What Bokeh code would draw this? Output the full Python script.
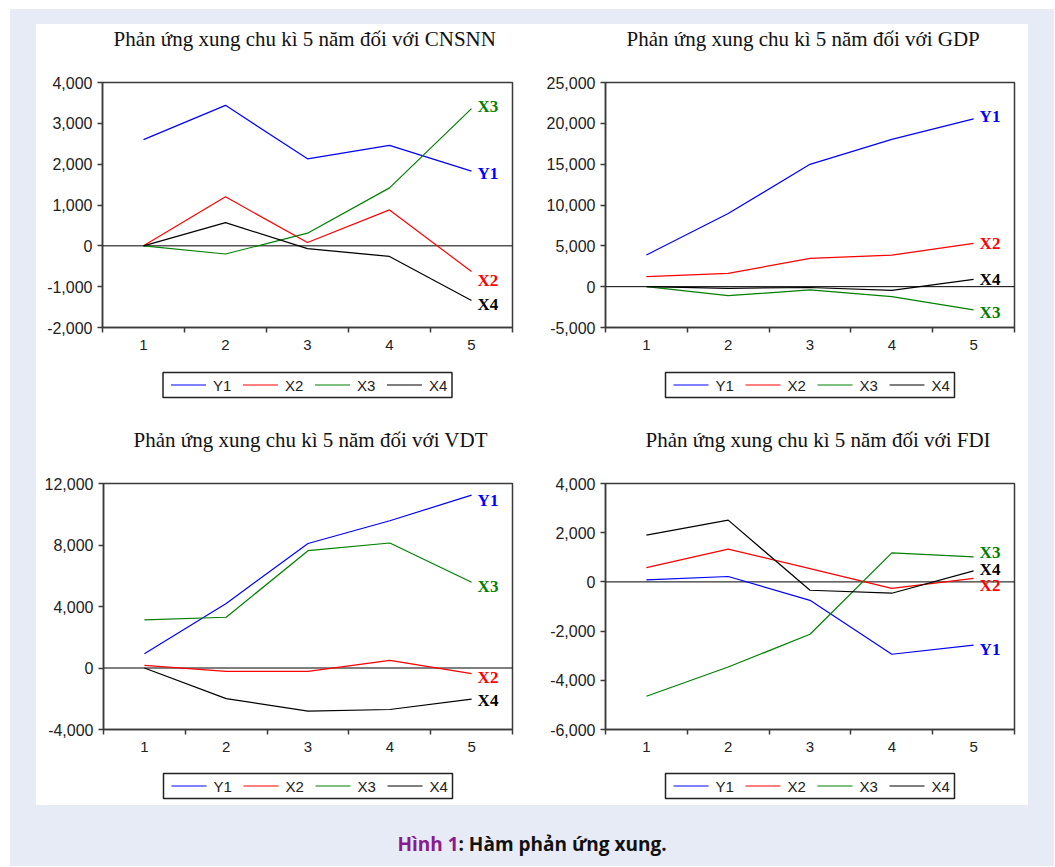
from bokeh.plotting import figure
from bokeh.layouts import column, row
from bokeh.models import (Range1d, FixedTicker, NumeralTickFormatter, Span, Div, Title,
                          Spacer)
from bokeh.core.properties import value
from bokeh.embed import file_html
from bokeh.resources import INLINE

# ---------------- data ----------------
periods = [1, 2, 3, 4, 5]
series_names = ["Y1", "X2", "X3", "X4"]

cnsnn_y1 = [2600, 3440, 2130, 2460, 1830]
cnsnn_x2 = [0, 1200, 80, 880, -630]
cnsnn_x3 = [0, -200, 310, 1420, 3360]
cnsnn_x4 = [0, 570, -70, -260, -1340]

gdp_y1 = [3870, 8950, 14980, 18030, 20550]
gdp_x2 = [1220, 1630, 3460, 3870, 5290]
gdp_x3 = [0, -1100, -400, -1220, -2850]
gdp_x4 = [0, -200, -100, -450, 900]

vdt_y1 = [930, 4200, 8100, 9580, 11240]
vdt_x2 = [170, -220, -220, 500, -370]
vdt_x3 = [3130, 3300, 7630, 8130, 5580]
vdt_x4 = [0, -1990, -2810, -2700, -2030]

fdi_y1 = [80, 220, -750, -2940, -2570]
fdi_x2 = [580, 1330, 540, -260, 140]
fdi_x3 = [-4650, -3460, -2130, 1180, 1020]
fdi_x4 = [1900, 2510, -340, -460, 450]

titles = [
    "Phản ứng xung chu kì 5 năm đối với CNSNN",
    "Phản ứng xung chu kì 5 năm đối với GDP",
    "Phản ứng xung chu kì 5 năm đối với VDT",
    "Phản ứng xung chu kì 5 năm đối với FDI",
]
y_ticks_cnsnn = [-2000, -1000, 0, 1000, 2000, 3000, 4000]
y_ticks_gdp = [-5000, 0, 5000, 10000, 15000, 20000, 25000]
y_ticks_vdt = [-4000, 0, 4000, 8000, 12000]
y_ticks_fdi = [-6000, -4000, -2000, 0, 2000, 4000]

caption_label = "Hình 1"
caption_text = ": Hàm phản ứng xung."

# ---------------- styles ----------------
COLORS = ["#0000ff", "#ff0000", "#008000", "#000000"]
LAV = "#e7ebf6"
FRAME = "#3a3a3a"
LABEL_FONT = "Liberation Sans"
# legend strip geometry (screen pixels inside the strip)
LEG_W, LEG_H, STRIP_H = 289, 25, 35
LEG_PAD, LEG_PITCH, SWATCH_W, LABEL_GAP = 8, 72, 35, 7


def legend_strip(left, right):
    fw = 496 - left - right
    q = figure(width=496, height=45, output_backend="svg", toolbar_location=None,
               x_range=Range1d(0, fw), y_range=Range1d(0, STRIP_H),
               x_axis_type=None, y_axis_type=None,
               min_border_left=left, min_border_right=right,
               min_border_top=8, min_border_bottom=2,
               background_fill_color="white", border_fill_color="white")
    q.outline_line_color = None
    q.grid.visible = False
    bx0 = (fw - LEG_W) / 2
    yb = (STRIP_H - LEG_H) / 2
    ym = STRIP_H / 2
    q.quad(left=[bx0], right=[bx0 + LEG_W], bottom=[yb], top=[yb + LEG_H],
           fill_color="white", line_color="#222222", line_width=1.5)
    for i, (name, col) in enumerate(zip(series_names, COLORS)):
        x0 = bx0 + LEG_PAD + LEG_PITCH * i
        q.segment(x0=[x0], y0=[ym], x1=[x0 + SWATCH_W], y1=[ym],
                  line_color=col, line_width=1.2)
        q.text(x=[x0 + SWATCH_W + LABEL_GAP], y=[ym], text=[name],
               text_baseline="middle", text_align="left",
               text_font=value(LABEL_FONT), text_font_size="15px",
               text_color="#222222")
    return q


def make_panel(title, data, yticks, label_dy, height, left, right, top, bottom,
               title_dx, gap):
    p = figure(width=496, height=height, output_backend="svg", toolbar_location=None,
               x_range=Range1d(0.5, 5.5), y_range=Range1d(yticks[0], yticks[-1]),
               min_border_left=left, min_border_right=right,
               min_border_top=top, min_border_bottom=bottom,
               background_fill_color="white", border_fill_color="white")
    # spacer title (closest to the frame) pushes the real title upward
    p.add_layout(Title(text=" ", text_font_size="27px", standoff=0,
                       text_color="white"), "above")
    p.add_layout(Title(text=title, align="left", offset=title_dx,
                       text_font="Liberation Serif", text_font_style="normal",
                       text_font_size="21px", text_color="#111111", standoff=0),
                 "above")
    p.grid.visible = False
    p.outline_line_color = FRAME
    p.outline_line_width = 1.5

    p.add_layout(Span(location=0, dimension="width", line_color="black",
                      line_width=1, level="underlay"))

    for name, ys, col, dy in zip(series_names, data, COLORS, label_dy):
        p.line(periods, ys, line_color=col, line_width=1.2)
        p.text(x=[periods[-1]], y=[ys[-1]], text=[name], x_offset=6, y_offset=dy,
               text_baseline="middle", text_align="left",
               text_font=value("Liberation Serif"), text_font_style="bold",
               text_font_size="17px", text_color=col)

    xa = p.xaxis[0]
    xa.ticker = FixedTicker(ticks=periods, minor_ticks=[0.5, 1.5, 2.5, 3.5, 4.5, 5.5])
    xa.major_tick_line_color = None
    xa.major_tick_out = 0
    xa.major_tick_in = 0
    xa.minor_tick_line_color = FRAME
    xa.minor_tick_line_width = 1.5
    xa.minor_tick_out = 5
    xa.minor_tick_in = 0
    xa.axis_line_color = FRAME
    xa.axis_line_width = 1.5
    xa.major_label_standoff = 7
    xa.major_label_text_font = LABEL_FONT
    xa.major_label_text_font_size = "15px"
    xa.major_label_text_color = "#222222"

    ya = p.yaxis[0]
    ya.ticker = FixedTicker(ticks=yticks, minor_ticks=[])
    ya.formatter = NumeralTickFormatter(format="0,0")
    ya.major_tick_line_color = FRAME
    ya.major_tick_line_width = 1.5
    ya.major_tick_out = 5
    ya.major_tick_in = 0
    ya.minor_tick_line_color = None
    ya.axis_line_color = FRAME
    ya.axis_line_width = 1.5
    ya.major_label_standoff = 5
    ya.major_label_text_font = LABEL_FONT
    ya.major_label_text_font_size = "16px"
    ya.major_label_text_color = "#222222"

    kids = [p, legend_strip(left, right)]
    if gap:
        kids.append(Spacer(width=496, height=gap))
    return column(*kids, spacing=0, styles={"background-color": "white"})


p1 = make_panel(titles[0], [cnsnn_y1, cnsnn_x2, cnsnn_x3, cnsnn_x4], y_ticks_cnsnn,
                [2, 9, -2, 4], 335, 66, 20, 57, 32, 11, 18)
p2 = make_panel(titles[1], [gdp_y1, gdp_x2, gdp_x3, gdp_x4], y_ticks_gdp,
                [-2, 0, 3, 0], 335, 73, 14, 57, 32, 21, 18)
p3 = make_panel(titles[2], [vdt_y1, vdt_x2, vdt_x3, vdt_x4], y_ticks_vdt,
                [5, 4, 4, 1], 338, 67, 20, 61, 31, 30, 0)
p4 = make_panel(titles[3], [fdi_y1, fdi_x2, fdi_x3, fdi_x4], y_ticks_fdi,
                [4, 7, -4, -1], 338, 73, 14, 61, 31, 40, 0)

grid = column(row(p1, p2, spacing=0), row(p3, p4, spacing=0), spacing=0,
              margin=(15, 0, 0, 26), styles={"background-color": "white"})

caption = Div(
    text=(f"<span style='color:#8b1a8f'>{caption_label}</span>"
          f"<span style='color:#111111'>{caption_text}</span>"),
    width=1044, height=30, margin=(26, 0, 0, 0),
    styles={"text-align": "center", "font-family": "'Open Sans', sans-serif",
            "font-weight": "bold", "font-size": "19px", "width": "1044px"})

page = column(grid, caption, width=1044, height=857, spacing=0, margin=(9, 0, 0, 10),
              styles={"background-color": LAV})

open("out.html", "w").write(file_html(page, INLINE))
